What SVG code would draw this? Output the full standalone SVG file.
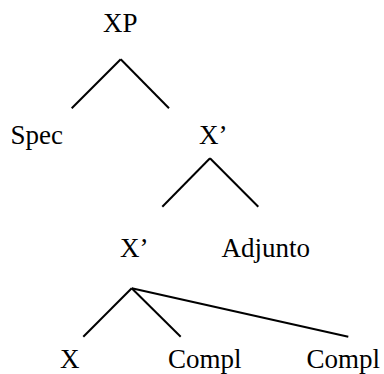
<svg xmlns="http://www.w3.org/2000/svg" width="384" height="374" viewBox="0 0 384 374">
<style>
.c line{stroke:#000;stroke-width:2;stroke-linecap:butt}
</style>
<rect width="384" height="374" fill="#fff"/>
<g class="c" id="connectors">
<line x1="120.7" y1="59.3" x2="71.7" y2="108.3"/>
<line x1="120.7" y1="59.3" x2="169" y2="108.3"/>
<line x1="210" y1="158.3" x2="162.3" y2="206.7"/>
<line x1="210" y1="158.3" x2="258.3" y2="206.7"/>
<line x1="131.7" y1="288.3" x2="83.3" y2="336.7"/>
<line x1="131.7" y1="288.3" x2="180.7" y2="336.7"/>
<line x1="131.7" y1="288.3" x2="348.3" y2="336.7"/>
</g>
<g font-family="'Times New Roman', 'Liberation Serif', serif" font-size="27" fill="#000">
<g id="XP"><text x="103" y="32">XP</text></g>
<g id="Spec"><text x="10.5" y="144">Spec</text></g>
<g id="Xbar1"><text x="199" y="144">X’</text></g>
<g id="Xbar2"><text x="120" y="257">X’</text></g>
<g id="Adjunto"><text x="221.5" y="257">Adjunto</text></g>
<g id="X"><text x="60" y="368">X</text></g>
<g id="Compl1"><text x="168" y="368">Compl</text></g>
<g id="Compl2"><text x="306.5" y="368">Compl</text></g>
</g>
</svg>
